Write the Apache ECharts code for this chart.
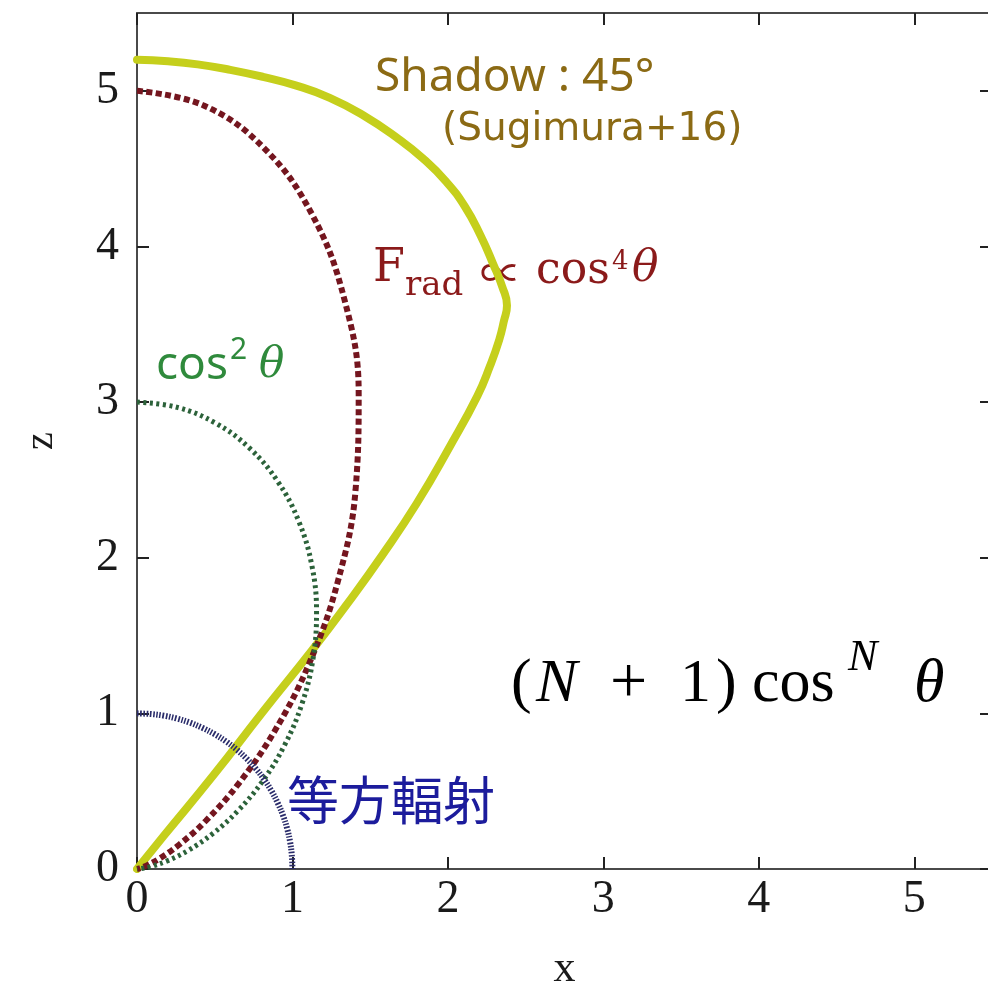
<!DOCTYPE html>
<html>
<head>
<meta charset="utf-8">
<script src="https://cdn.jsdelivr.net/npm/echarts@6/dist/echarts.min.js"></script>
<style>
  html, body { margin: 0; padding: 0; background: #fff; }
  #chart { width: 988px; height: 991px; }
</style>
</head>
<body>
<div id="chart"></div>
<script>
// Axis ticks (both axes run 0 .. 5.5)
const tickValues = [0, 1, 2, 3, 4, 5];

// Isotropic emission, N = 0
const isoX = [0, 0.087, 0.174, 0.259, 0.342, 0.423, 0.5, 0.574, 0.643, 0.707, 0.766, 0.819, 0.866, 0.906, 0.94, 0.966, 0.985, 0.996, 1.0];
const isoZ = [1.0, 0.996, 0.985, 0.966, 0.94, 0.906, 0.866, 0.819, 0.766, 0.707, 0.643, 0.574, 0.5, 0.423, 0.342, 0.259, 0.174, 0.087, 0];

// N = 2 lobe (cos^2 theta)
const cos2X = [0, 0.26, 0.505, 0.724, 0.906, 1.041, 1.125, 1.155, 1.132, 1.061, 0.95, 0.809, 0.65, 0.486, 0.33, 0.194, 0.089, 0.023, 0];
const cos2Z = [3.0, 2.966, 2.865, 2.704, 2.489, 2.233, 1.949, 1.649, 1.349, 1.061, 0.797, 0.566, 0.375, 0.226, 0.12, 0.052, 0.016, 0.002, 0];

// N = 4 lobe (cos^4 theta)
const cos4X = [0, 0.429, 0.817, 1.127, 1.333, 1.426, 1.406, 1.291, 1.107, 0.884, 0.654, 0.443, 0.271, 0.145, 0.064, 0.022, 0];
const cos4Z = [5.0, 4.906, 4.632, 4.204, 3.664, 3.058, 2.436, 1.844, 1.319, 0.884, 0.549, 0.31, 0.156, 0.067, 0.023, 0.006, 0];

// Shadowed profile, 45 degrees (Sugimura+16)
const shadowX = [0, 0.2, 0.39, 0.6, 0.81, 1.02, 1.24, 1.46, 1.67, 1.84, 1.99, 2.11, 2.21, 2.29, 2.35, 2.38,
                 2.36, 2.33, 2.27, 2.19, 2.01, 1.8, 1.58, 1.35, 1.13, 0.81, 0.49, 0.17, 0];
const shadowZ = [5.2, 5.19, 5.17, 5.135, 5.09, 5.035, 4.955, 4.84, 4.7, 4.565, 4.415, 4.255, 4.07, 3.89, 3.74, 3.62,
                 3.52, 3.4, 3.23, 3.04, 2.71, 2.35, 2.02, 1.7, 1.41, 1.01, 0.6, 0.21, 0];

const zip = (xs, zs) => xs.map((x, i) => [x, zs[i]]);

const chart = echarts.init(document.getElementById('chart'), null, { renderer: 'canvas' });

const serif = '"Liberation Serif", "Times New Roman", serif';
const frameColor = '#4a4a4a';

function frameAxis(extra) {
  return Object.assign({
    type: 'value',
    min: 0,
    max: 5.5,
    interval: 1,
    splitLine: { show: false },
    axisLine: { show: true, onZero: false, lineStyle: { color: frameColor, width: 2 } },
    axisTick: { show: true, inside: true, length: 12, lineStyle: { color: '#222', width: 2 },
      customValues: tickValues },
  }, extra);
}

const labelStyle = {
  fontFamily: serif,
  fontSize: 46,
  color: '#1a1a1a',
  customValues: tickValues,
  formatter: v => String(v)
};

function txt(text, x, y, font, fill) {
  return { type: 'text', silent: true,
    style: { text, x, y, font, fill, align: 'left', verticalAlign: 'middle',
             textAlign: 'left', textVerticalAlign: 'middle' } };
}

const red = '#8b1a1a';
const green = '#2f8a3c';
const olive = '#8b6a14';
const cm = '62px ' + serif;
const cmi = 'italic 62px ' + serif;

const option = {
  backgroundColor: '#ffffff',
  animation: false,
  grid: { left: 137, top: 13, width: 855, height: 856, containLabel: false, outerBoundsMode: 'none' },
  xAxis: [
    frameAxis({
      position: 'bottom',
      name: 'x',
      nameLocation: 'middle',
      nameGap: 78,
      nameTextStyle: { fontFamily: serif, fontSize: 44, color: '#1a1a1a' },
      axisLabel: Object.assign({ margin: 8 }, labelStyle)
    }),
    frameAxis({ position: 'top', axisLabel: { show: false } })
  ],
  yAxis: [
    frameAxis({
      position: 'left',
      name: 'z',
      nameLocation: 'middle',
      nameGap: 76,
      nameRotate: 90,
      nameTextStyle: { fontFamily: serif, fontSize: 40, color: '#1a1a1a' },
      axisLabel: Object.assign({ margin: 18 }, labelStyle)
    }),
    frameAxis({ position: 'right', axisLabel: { show: false } })
  ],
  series: [
    {
      name: 'Shadow 45°',
      type: 'line',
      data: zip(shadowX, shadowZ),
      showSymbol: false,
      smooth: 0.5,
      lineStyle: { color: '#c5cf1c', width: 8, cap: 'round', join: 'round' },
      z: 2
    },
    {
      name: 'cos^4',
      type: 'line',
      data: zip(cos4X, cos4Z),
      showSymbol: false,
      smooth: 0.4,
      lineStyle: { color: '#74161f', width: 6, type: [6, 3.5], cap: 'butt' },
      z: 3
    },
    {
      name: 'cos^2',
      type: 'line',
      data: zip(cos2X, cos2Z),
      showSymbol: false,
      smooth: 0.4,
      lineStyle: { color: '#2c623a', width: 5, type: [3, 3.5], cap: 'butt' },
      z: 4
    },
    {
      name: 'isotropic',
      type: 'line',
      data: zip(isoX, isoZ),
      showSymbol: false,
      smooth: 0.4,
      lineStyle: { color: '#2a2c6a', width: 6, type: [1.6, 1.6], cap: 'butt' },
      z: 5
    }
  ],
  graphic: [
    txt('Shadow : 45°', 375, 78, '46px "Noto Sans"', olive),
    txt('(Sugimura+16)', 442, 130, '39px "DejaVu Sans"', olive),

    txt('F', 373, 269, '46px "DejaVu Serif"', red),
    txt('rad', 405, 286, '34px "DejaVu Serif"', red),
    txt('∝', 480, 272, '42px "Noto Sans CJK JP"', red),
    txt('cos', 536, 272, '44px "DejaVu Serif"', red),
    txt('4', 612, 262, '26px "DejaVu Serif"', red),
    txt('θ', 632, 270, 'italic 44px "DejaVu Serif"', red),

    txt('cos', 156, 366, '46px "Noto Sans"', green),
    txt('2', 230, 350, '30px "Noto Sans"', green),
    txt('θ', 259, 366, 'italic 42px "DejaVu Serif"', green),

    txt('等方輻射', 287, 800, '52px "Noto Sans CJK JP"', '#1c1c9c'),

    // general form (N+1) cos^N θ
    txt('(', 511, 685, cm, '#000'),
    txt('N', 536, 685, cmi, '#000'),
    txt('+', 610, 685, '66px ' + serif, '#000'),
    txt('1', 680, 685, cm, '#000'),
    txt(')', 716, 685, cm, '#000'),
    txt('cos', 752, 685, cm, '#000'),
    txt('N', 848, 658, 'italic 44px ' + serif, '#000'),
    txt('θ', 914, 685, cmi, '#000')
  ]
};

chart.setOption(option);
</script>
</body>
</html>
